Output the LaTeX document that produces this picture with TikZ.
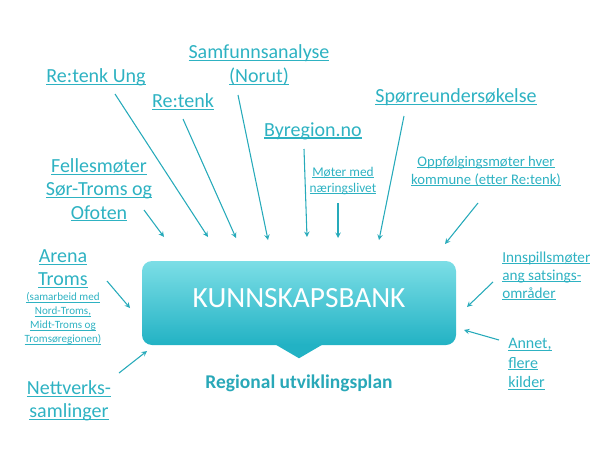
\documentclass[tikz,border=0pt]{standalone}
\usepackage{fontspec}
\setmainfont{Carlito}
\usepackage{color}
\definecolor{mylink}{RGB}{46,178,194}
\definecolor{myarrow}{RGB}{38,170,186}
\definecolor{mytop}{RGB}{124,222,230}
\definecolor{mybottom}{RGB}{34,178,196}
\definecolor{mydark}{RGB}{41,168,184}
\usetikzlibrary{arrows,calc,positioning}

\newcommand{\lnk}[1]{\setbox0\hbox{#1}\rlap{\rule[-0.12em]{\wd0}{0.055em}}\box0}

\begin{document}
\begin{tikzpicture}[
  x=0.75pt, y=-0.75pt,
  src/.style={
    text=mylink,
    align=center,
    inner sep=0pt,
    font=\fontsize{15}{17.5}\selectfont
    },
  arr/.style={
    draw=myarrow,
    line width=0.8pt,
    -stealth
    },
  bank/.style={
    rectangle,
    rounded corners=7.5pt,
    top color=mytop,
    bottom color=mybottom,
    minimum width=235.5pt,
    minimum height=63pt,
    inner sep=0pt
  }
]
\useasboundingbox (0,0) rectangle (600,450);

% the box
\node[bank] (bank) at (299,303) {};
\fill[mybottom] ($(bank.south)+(-24,-1)$) -- ($(bank.south)+(24,-1)$) -- ($(bank.south)+(0,13)$) -- cycle;
\node[text=white, font=\fontsize{22}{26}\selectfont] (banktitle) at (299,298) {KUNNSKAPSBANK};
\node[font=\bfseries\fontsize{14.6}{17}\selectfont, text=mydark] (plan) at (299,383) {Regional utviklingsplan};

% sources
\node[src] (samfunn) at (259,65) {\lnk{Samfunnsanalyse}\\\lnk{(Norut)}};
\node[src] (retenkung) at (96,77) {\lnk{Re:tenk Ung}};
\node[src] (retenk) at (183,102) {\lnk{Re:tenk}};
\node[src] (byregion) at (313,131) {\lnk{Byregion.no}};
\node[src] (spor) at (456,97) {\lnk{Spørreundersøkelse}};
\node[src, font=\fontsize{10}{12}\selectfont] (moter) at (343,181) {\lnk{Møter med}\\\lnk{næringslivet}};
\node[src, font=\fontsize{11}{13.5}\selectfont] (oppf) at (486,171) {\lnk{Oppfølgingsmøter hver}\\\lnk{kommune (etter Re:tenk)}};
\node[src] (felles) at (99,190) {\lnk{Fellesmøter}\\\lnk{Sør-Troms og}\\\lnk{Ofoten}};
\node[src] (arena) at (63,269) {\lnk{Arena}\\\lnk{Troms}};
\node[src, font=\fontsize{8.3}{10.5}\selectfont, below=3pt of arena] (arenanote) {\lnk{(samarbeid med}\\\lnk{Nord-Troms,}\\\lnk{Midt-Troms og}\\\lnk{Tromsøregionen)}};
\node[src] (nett) at (69,401) {\lnk{Nettverks-}\\\lnk{samlinger}};
\node[src, align=left, anchor=west, font=\fontsize{11.4}{13.5}\selectfont] (innsp) at (502,276) {\lnk{Innspillsmøter}\\\lnk{ang satsings-}\\\lnk{områder}};
\node[src, align=left, anchor=west, font=\fontsize{12}{14.6}\selectfont] (annet) at (508,364) {\lnk{Annet,}\\\lnk{flere}\\\lnk{kilder}};

% arrow ends
\coordinate (retenkung-in) at (208,237);
\coordinate (retenk-in) at (236,238);
\coordinate (samfunn-in) at (268,240);
\coordinate (felles-in) at (164,237);
\coordinate (byregion-in) at (307,237);
\coordinate (moter-in) at (338,238);
\coordinate (spor-in) at (379,240);
\coordinate (oppf-in) at (445,244);
\coordinate (arena-in) at (130,308);
\coordinate (nett-in) at (147,351);
\coordinate (innsp-in) at (467,307);
\coordinate (annet-in) at (464,330);

\foreach \src/\anc/\dx/\dy in {retenkung/center/19/17, retenk/center/0/17, samfunn/center/-21/30, felles/center/45/20, byregion/center/-9/18, moter/center/-5/22, spor/center/-52/19, oppf/center/-8/32, arena/center/44/12, nett/center/50/-28, innsp/west/-9/6, annet/west/-9/-24}
  \draw[arr] ($(\src.\anc)+(\dx,\dy)$) -- (\src-in);

\end{tikzpicture}
\end{document}
